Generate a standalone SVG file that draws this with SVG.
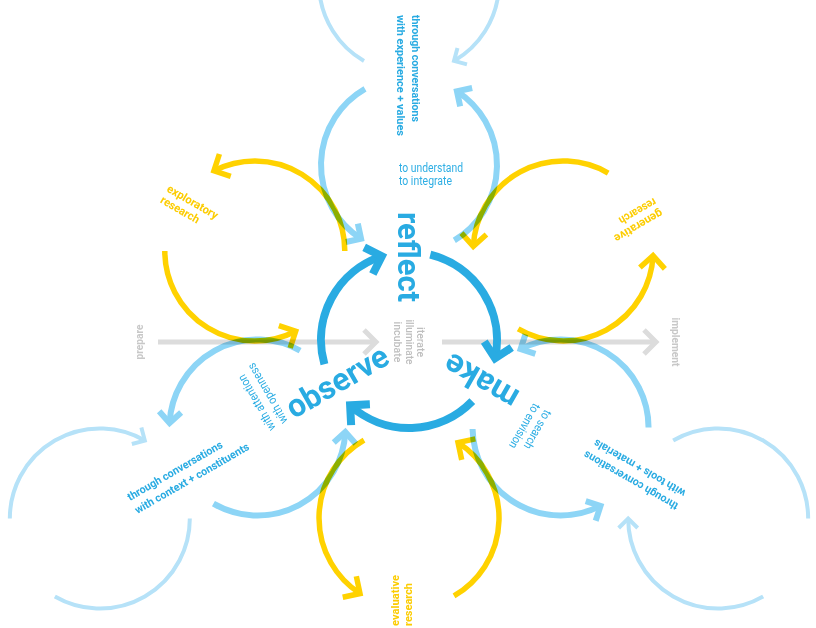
<svg xmlns="http://www.w3.org/2000/svg" width="816" height="628" viewBox="0 0 816 628">
<defs>
<style>
.pale{fill:none;stroke:#b6e2f8;stroke-width:4;mix-blend-mode:multiply}
.med{fill:none;stroke:#8dd5f6;stroke-width:6;mix-blend-mode:multiply}
.yel{fill:none;stroke:#ffd200;stroke-width:5.5;mix-blend-mode:multiply}
.core{fill:none;stroke:#29abe2;stroke-width:8}
.gray{fill:none;stroke:#dcdcdc;stroke-width:5}
text{font-family:Roboto,"Liberation Sans",Arial,sans-serif}
.big{font-size:32px;font-weight:bold;fill:#29abe2}
.sm{font-size:11px;font-weight:bold;fill:#29abe2}
.rg{font-size:12px;fill:#2eaee4}
.ytx{font-size:11.5px;font-weight:bold;fill:#fccc00}
.gtx{font-size:10.5px;font-weight:bold;fill:#c8c8c8}
.gtr{font-size:11px;font-weight:500;fill:#bfbfbf}
</style>
<marker id="mk-core" markerUnits="userSpaceOnUse" orient="auto" overflow="visible" markerWidth="1" markerHeight="1" refX="0" refY="0">
<path d="M-14,-14 L0,0 L-14,14" fill="none" stroke="#29abe2" stroke-width="8"/>
</marker>
<marker id="mk-med" markerUnits="userSpaceOnUse" orient="auto" overflow="visible" markerWidth="1" markerHeight="1" refX="0" refY="0">
<path d="M-11,-11 L0,0 L-11,11" fill="none" stroke="#8dd5f6" stroke-width="6"/>
</marker>
<marker id="mk-pale" markerUnits="userSpaceOnUse" orient="auto" overflow="visible" markerWidth="1" markerHeight="1" refX="0" refY="0">
<path d="M-9.5,-9.5 L0,0 L-9.5,9.5" fill="none" stroke="#b6e2f8" stroke-width="4"/>
</marker>
<marker id="mk-yel" markerUnits="userSpaceOnUse" orient="auto" overflow="visible" markerWidth="1" markerHeight="1" refX="0" refY="0">
<path d="M-12.5,-12.5 L0,0 L-12.5,12.5" fill="none" stroke="#ffd200" stroke-width="5.5"/>
</marker>
<marker id="mk-gray" markerUnits="userSpaceOnUse" orient="auto" overflow="visible" markerWidth="1" markerHeight="1" refX="0" refY="0">
<path d="M-12,-12 L0,0 L-12,12" fill="none" stroke="#dcdcdc" stroke-width="5"/>
</marker>
</defs>
<rect width="816" height="628" fill="#ffffff"/>

<g id="connectors">
<g id="gray-axis">
<path class="gray" d="M158,342 H376" marker-end="url(#mk-gray)"/>
<path class="gray" d="M442,342 H656" marker-end="url(#mk-gray)"/>
</g>

<g id="outer-loops">
<g id="outer-reflect">
<path class="pale" d="M454,-94.94 A90,90 0 0 1 454,60.94" marker-end="url(#mk-pale)"/>
<path class="pale" d="M364,60.94 A90,90 0 0 1 364,-94.94"/>
<path class="med" d="M365,88.79 A88,88 0 0 0 361.07,238.8" marker-end="url(#mk-med)"/>
<path class="med" d="M454.32,240.43 A88,88 0 0 0 456.93,91.2" marker-end="url(#mk-med)"/>
</g>
<g id="outer-make" transform="rotate(120 409 340)">
<path class="pale" d="M454,-94.94 A90,90 0 0 1 454,60.94" marker-end="url(#mk-pale)"/>
<path class="pale" d="M364,60.94 A90,90 0 0 1 364,-94.94"/>
<path class="med" d="M365,88.79 A88,88 0 0 0 361.07,238.8" marker-end="url(#mk-med)"/>
<path class="med" d="M454.32,240.43 A88,88 0 0 0 456.93,91.2" marker-end="url(#mk-med)"/>
</g>
<g id="outer-observe" transform="rotate(240 409 340)">
<path class="pale" d="M454,-94.94 A90,90 0 0 1 454,60.94" marker-end="url(#mk-pale)"/>
<path class="pale" d="M364,60.94 A90,90 0 0 1 364,-94.94"/>
<path class="med" d="M365,88.79 A88,88 0 0 0 361.07,238.8" marker-end="url(#mk-med)"/>
<path class="med" d="M454.32,240.43 A88,88 0 0 0 456.93,91.2" marker-end="url(#mk-med)"/>
</g>
</g>

<g id="research-loops">
<g id="exploratory-loop">
<path class="yel" d="M344.8,251 A90,90 0 0 0 213.94,170.81" marker-end="url(#mk-yel)"/>
<path class="yel" d="M164.8,251 A90,90 0 0 0 295.66,331.19" marker-end="url(#mk-yel)"/>
</g>
<g id="generative-loop" transform="rotate(120 409 340)">
<path class="yel" d="M344.8,251 A90,90 0 0 0 213.94,170.81" marker-end="url(#mk-yel)"/>
<path class="yel" d="M164.8,251 A90,90 0 0 0 295.66,331.19" marker-end="url(#mk-yel)"/>
</g>
<g id="evaluative-loop" transform="rotate(240 409 340)">
<path class="yel" d="M344.8,251 A90,90 0 0 0 213.94,170.81" marker-end="url(#mk-yel)"/>
<path class="yel" d="M164.8,251 A90,90 0 0 0 295.66,331.19" marker-end="url(#mk-yel)"/>
</g>
</g>

<g id="core-loop">
<path class="core" d="M324.41,364.25 A88,88 0 0 1 381.81,256.31" marker-end="url(#mk-core)"/>
<path class="core" transform="rotate(120 409 340)" d="M324.41,364.25 A88,88 0 0 1 381.81,256.31" marker-end="url(#mk-core)"/>
<path class="core" transform="rotate(240 409 340)" d="M324.41,364.25 A88,88 0 0 1 381.81,256.31" marker-end="url(#mk-core)"/>
</g>
</g>

<g id="node-reflect">
<text class="big" transform="translate(398,257) rotate(90)" text-anchor="middle" textLength="90" lengthAdjust="spacingAndGlyphs">reflect</text>
<text class="rg"><tspan x="399" y="172" textLength="64" lengthAdjust="spacingAndGlyphs">to understand</tspan><tspan x="399" y="185" textLength="53" lengthAdjust="spacingAndGlyphs">to integrate</tspan></text>
<text class="sm" transform="translate(412,15) rotate(90)"><tspan x="0" y="0" textLength="107" lengthAdjust="spacingAndGlyphs">through conversations</tspan><tspan x="0" y="15" textLength="121" lengthAdjust="spacingAndGlyphs">with experience + values</tspan></text>
</g>

<g id="node-make">
<g transform="rotate(120 409 340)">
<text class="big" transform="translate(398,257) rotate(90)" text-anchor="middle" textLength="80" lengthAdjust="spacingAndGlyphs">make</text>
</g>
<text class="rg" transform="translate(545,409) rotate(120)"><tspan x="0" y="0" textLength="43" lengthAdjust="spacingAndGlyphs">to search</tspan><tspan x="0" y="13" textLength="50" lengthAdjust="spacingAndGlyphs">to envision</tspan></text>
<text class="sm" transform="translate(679,504) rotate(210)"><tspan x="0" y="0" textLength="107" lengthAdjust="spacingAndGlyphs">through conversations</tspan><tspan x="0" y="15" textLength="104" lengthAdjust="spacingAndGlyphs">with tools + materials</tspan></text>
</g>

<g id="node-observe">
<g transform="rotate(240 409 340)">
<text class="big" transform="translate(398,257) rotate(90)" text-anchor="middle" textLength="113" lengthAdjust="spacingAndGlyphs">observe</text>
</g>
<text class="rg" transform="translate(276,428) rotate(240)"><tspan x="0" y="0" textLength="63" lengthAdjust="spacingAndGlyphs">with attention</tspan><tspan x="0" y="14" textLength="68" lengthAdjust="spacingAndGlyphs">with openness</tspan></text>
<text class="sm" transform="translate(130,501) rotate(330)"><tspan x="0" y="0" textLength="108" lengthAdjust="spacingAndGlyphs">through conversations</tspan><tspan x="0" y="15" textLength="130" lengthAdjust="spacingAndGlyphs">with context + constituents</tspan></text>
</g>

<g id="node-exploratory">
<text class="ytx" transform="translate(166,191) rotate(30)"><tspan x="0" y="0" textLength="57" lengthAdjust="spacingAndGlyphs">exploratory</tspan><tspan x="0" y="13" textLength="43" lengthAdjust="spacingAndGlyphs">research</tspan></text>
</g>
<g id="node-generative">
<text class="ytx" transform="translate(660,209) rotate(150)"><tspan x="0" y="0" textLength="54" lengthAdjust="spacingAndGlyphs">generative</tspan><tspan x="0" y="13" textLength="41" lengthAdjust="spacingAndGlyphs">research</tspan></text>
</g>
<g id="node-evaluative">
<text class="ytx" transform="translate(399,626) rotate(270)"><tspan x="0" y="0" textLength="51" lengthAdjust="spacingAndGlyphs">evaluative</tspan><tspan x="0" y="13" textLength="43" lengthAdjust="spacingAndGlyphs">research</tspan></text>
</g>

<g id="node-axis-labels">
<text class="gtx" transform="translate(143,342) rotate(-90)" text-anchor="middle" textLength="35" lengthAdjust="spacingAndGlyphs">prepare</text>
<text class="gtx" transform="translate(672,342) rotate(90)" text-anchor="middle" textLength="49" lengthAdjust="spacingAndGlyphs">implement</text>
<text class="gtr" transform="translate(417,342) rotate(90)" text-anchor="middle"><tspan x="0" y="0" textLength="30" lengthAdjust="spacingAndGlyphs">iterate</tspan><tspan x="0" y="11.5" textLength="45" lengthAdjust="spacingAndGlyphs">illuminate</tspan><tspan x="0" y="23" textLength="41" lengthAdjust="spacingAndGlyphs">incubate</tspan></text>
</g>
</svg>
